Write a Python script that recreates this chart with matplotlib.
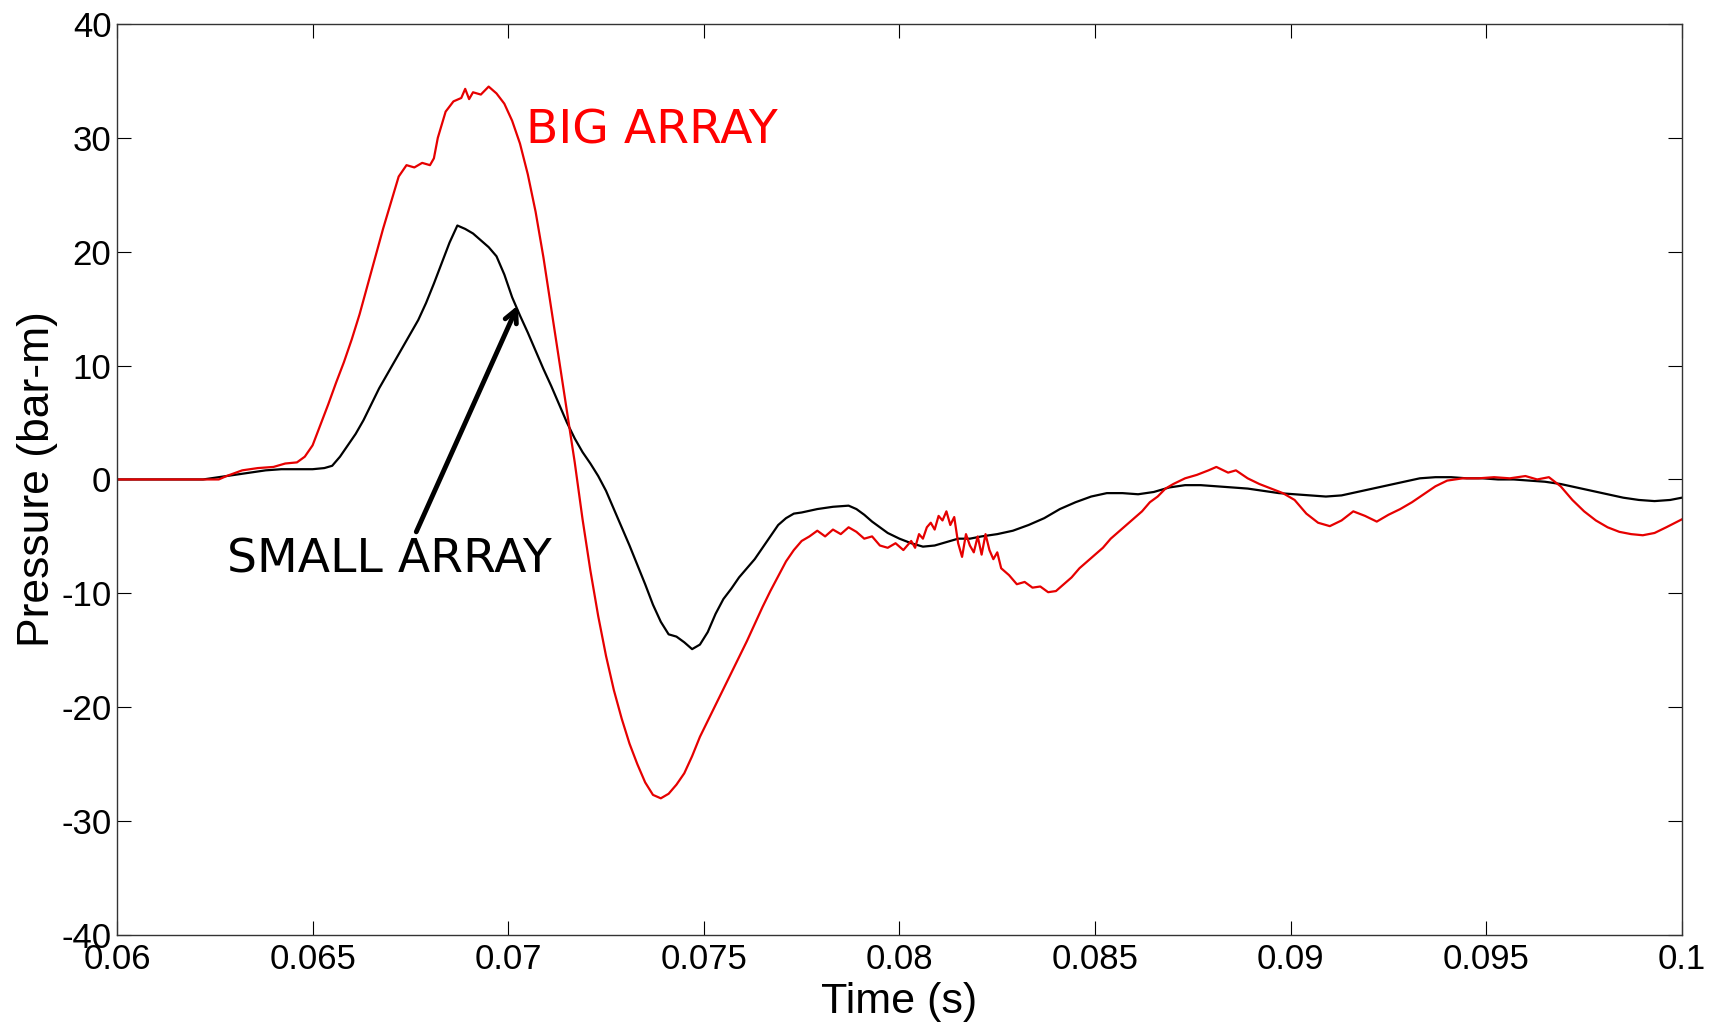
import matplotlib
matplotlib.use("Agg")
import matplotlib.pyplot as plt

plt.rcParams["axes.unicode_minus"] = False

# Pressure traces (bar-m) against time (s) for the two arrays
big_t = [0.0600, 0.0626, 0.0628, 0.0632, 0.0636, 0.0640, 0.0643, 0.0646, 0.0648, 0.0650,
         0.0652, 0.0654, 0.0656, 0.0658, 0.0660, 0.0662, 0.0664, 0.0666, 0.0668, 0.0670,
         0.0672, 0.0674, 0.0676, 0.0678, 0.0680, 0.0681, 0.0682, 0.0684, 0.0686, 0.0688,
         0.0689, 0.0690, 0.0691, 0.0693, 0.0695, 0.0697, 0.0699, 0.0701, 0.0703, 0.0705,
         0.0707, 0.0709, 0.0711, 0.0713, 0.0715, 0.0717, 0.0719, 0.0721, 0.0723, 0.0725,
         0.0727, 0.0729, 0.0731, 0.0733, 0.0735, 0.0737, 0.0739, 0.0741, 0.0743, 0.0745,
         0.0747, 0.0749, 0.0751, 0.0753, 0.0755, 0.0757, 0.0759, 0.0761, 0.0763, 0.0765,
         0.0767, 0.0769, 0.0771, 0.0773, 0.0775, 0.0777, 0.0779, 0.0781, 0.0783, 0.0785,
         0.0787, 0.0789, 0.0791, 0.0793, 0.0795, 0.0797, 0.0799, 0.0801, 0.0803, 0.0804,
         0.0805, 0.0806, 0.0807, 0.0808, 0.0809, 0.0810, 0.0811, 0.0812, 0.0813, 0.0814,
         0.0815, 0.0816, 0.0817, 0.0818, 0.0819, 0.0820, 0.0821, 0.0822, 0.0823, 0.0824,
         0.0825, 0.0826, 0.0828, 0.0830, 0.0832, 0.0834, 0.0836, 0.0838, 0.0840, 0.0842,
         0.0844, 0.0846, 0.0848, 0.0850, 0.0852, 0.0854, 0.0856, 0.0858, 0.0860, 0.0862,
         0.0864, 0.0866, 0.0868, 0.0870, 0.0873, 0.0876, 0.0879, 0.0881, 0.0884, 0.0886,
         0.0889, 0.0892, 0.0895, 0.0898, 0.0901, 0.0904, 0.0907, 0.0910, 0.0913, 0.0916,
         0.0919, 0.0922, 0.0925, 0.0928, 0.0931, 0.0934, 0.0937, 0.0940, 0.0944, 0.0948,
         0.0952, 0.0956, 0.0960, 0.0963, 0.0966, 0.0969, 0.0972, 0.0975, 0.0978, 0.0981,
         0.0984, 0.0987, 0.0990, 0.0993, 0.0996, 0.1000]
big_p = [0.0, 0.0, 0.3, 0.8, 1.0, 1.1, 1.4, 1.5, 2.0, 3.0,
         4.8, 6.6, 8.5, 10.3, 12.3, 14.5, 17.0, 19.5, 22.0, 24.3,
         26.6, 27.6, 27.4, 27.8, 27.6, 28.2, 30.0, 32.3, 33.2, 33.5,
         34.3, 33.4, 34.0, 33.8, 34.5, 33.9, 33.0, 31.5, 29.5, 26.8,
         23.5, 19.5, 15.0, 10.5, 6.0, 1.5, -3.5, -8.0, -12.0, -15.5,
         -18.5, -21.0, -23.2, -25.0, -26.6, -27.7, -28.0, -27.6, -26.8, -25.8,
         -24.3, -22.6, -21.2, -19.8, -18.4, -17.0, -15.6, -14.2, -12.7, -11.2,
         -9.8, -8.5, -7.2, -6.2, -5.4, -5.0, -4.5, -5.0, -4.4, -4.8,
         -4.2, -4.6, -5.2, -5.0, -5.8, -6.0, -5.6, -6.2, -5.4, -6.0,
         -4.8, -5.2, -4.2, -3.8, -4.4, -3.2, -3.6, -2.8, -4.0, -3.3,
         -5.6, -6.8, -4.8, -5.8, -6.4, -5.0, -6.6, -4.8, -6.2, -7.0,
         -6.4, -7.8, -8.4, -9.2, -9.0, -9.5, -9.4, -9.9, -9.8, -9.2,
         -8.6, -7.8, -7.2, -6.6, -6.0, -5.2, -4.6, -4.0, -3.4, -2.8,
         -2.0, -1.5, -0.8, -0.4, 0.1, 0.4, 0.8, 1.1, 0.6, 0.8,
         0.1, -0.4, -0.8, -1.2, -1.8, -3.0, -3.8, -4.1, -3.6, -2.8,
         -3.2, -3.7, -3.1, -2.6, -2.0, -1.3, -0.6, -0.1, 0.1, 0.1,
         0.2, 0.1, 0.3, 0.0, 0.2, -0.6, -1.8, -2.8, -3.6, -4.2,
         -4.6, -4.8, -4.9, -4.7, -4.2, -3.5]

small_t = [0.0600, 0.0622, 0.0626, 0.0630, 0.0634, 0.0638, 0.0642, 0.0646, 0.0650, 0.0653,
           0.0655, 0.0657, 0.0659, 0.0661, 0.0663, 0.0665, 0.0667, 0.0669, 0.0671, 0.0673,
           0.0675, 0.0677, 0.0679, 0.0681, 0.0683, 0.0685, 0.0687, 0.0689, 0.0691, 0.0693,
           0.0695, 0.0697, 0.0699, 0.0701, 0.0703, 0.0705, 0.0707, 0.0709, 0.0711, 0.0713,
           0.0715, 0.0717, 0.0719, 0.0721, 0.0723, 0.0725, 0.0727, 0.0729, 0.0731, 0.0733,
           0.0735, 0.0737, 0.0739, 0.0741, 0.0743, 0.0745, 0.0747, 0.0749, 0.0751, 0.0753,
           0.0755, 0.0757, 0.0759, 0.0761, 0.0763, 0.0765, 0.0767, 0.0769, 0.0771, 0.0773,
           0.0775, 0.0779, 0.0783, 0.0787, 0.0789, 0.0791, 0.0793, 0.0795, 0.0797, 0.0800,
           0.0803, 0.0806, 0.0809, 0.0812, 0.0815, 0.0818, 0.0821, 0.0825, 0.0829, 0.0833,
           0.0837, 0.0841, 0.0845, 0.0849, 0.0853, 0.0857, 0.0861, 0.0865, 0.0869, 0.0873,
           0.0877, 0.0881, 0.0885, 0.0889, 0.0893, 0.0897, 0.0901, 0.0905, 0.0909, 0.0913,
           0.0917, 0.0921, 0.0925, 0.0929, 0.0933, 0.0937, 0.0941, 0.0945, 0.0949, 0.0953,
           0.0957, 0.0961, 0.0965, 0.0969, 0.0973, 0.0977, 0.0981, 0.0985, 0.0989, 0.0993,
           0.0997, 0.1000]
small_p = [0.0, 0.0, 0.2, 0.4, 0.6, 0.8, 0.9, 0.9, 0.9, 1.0,
           1.2, 2.0, 3.0, 4.0, 5.2, 6.6, 8.0, 9.2, 10.4, 11.6,
           12.8, 14.0, 15.5, 17.2, 19.0, 20.8, 22.3, 22.0, 21.6, 21.0,
           20.4, 19.6, 18.0, 16.0, 14.4, 12.9, 11.3, 9.7, 8.2, 6.6,
           5.0, 3.6, 2.4, 1.4, 0.3, -1.0, -2.6, -4.2, -5.8, -7.5,
           -9.2, -11.0, -12.5, -13.6, -13.8, -14.3, -14.9, -14.5, -13.4, -11.8,
           -10.5, -9.6, -8.6, -7.8, -7.0, -6.0, -5.0, -4.0, -3.4, -3.0,
           -2.9, -2.6, -2.4, -2.3, -2.6, -3.1, -3.7, -4.2, -4.7, -5.2,
           -5.6, -5.9, -5.8, -5.5, -5.2, -5.2, -5.0, -4.8, -4.5, -4.0,
           -3.4, -2.6, -2.0, -1.5, -1.2, -1.2, -1.3, -1.1, -0.7, -0.5,
           -0.5, -0.6, -0.7, -0.8, -1.0, -1.2, -1.3, -1.4, -1.5, -1.4,
           -1.1, -0.8, -0.5, -0.2, 0.1, 0.2, 0.2, 0.1, 0.1, 0.0,
           0.0, -0.1, -0.2, -0.4, -0.7, -1.0, -1.3, -1.6, -1.8, -1.9,
           -1.8, -1.6]

x_ticks = [0.06, 0.065, 0.07, 0.075, 0.08, 0.085, 0.09, 0.095, 0.1]
x_labels = ["0.06", "0.065", "0.07", "0.075", "0.08", "0.085", "0.09", "0.095", "0.1"]
y_ticks = [-40, -30, -20, -10, 0, 10, 20, 30, 40]

axis_font = ["Liberation Sans", "DejaVu Sans"]

fig = plt.figure(figsize=(17.18, 10.28), dpi=100)
ax = fig.add_axes([0.0681, 0.0905, 0.9109, 0.8862])

ax.plot(small_t, small_p, color="black", lw=1.6)
ax.plot(big_t, big_p, color="#e60000", lw=1.6)

ax.set_xlim(0.06, 0.1)
ax.set_ylim(-40, 40)
ax.set_xticks(x_ticks)
ax.set_xticklabels(x_labels)
ax.set_yticks(y_ticks)
ax.tick_params(direction="in", length=10, width=0.8, top=True, right=True)
ax.tick_params(axis="x", pad=6)
ax.tick_params(axis="y", pad=4)
for lab in ax.get_xticklabels() + ax.get_yticklabels():
    lab.set_family(axis_font)
    lab.set_fontsize(25)
for sp in ax.spines.values():
    sp.set_linewidth(1.0)
    sp.set_color("#333333")

ax.set_xlabel("Time (s)", family=axis_font, fontsize=31, labelpad=4)
ax.set_ylabel("Pressure (bar-m)", family=axis_font, fontsize=32, labelpad=2)

# labels for the two traces
ax.text(0.07045, 29.5, "BIG ARRAY", color="#ff0000", fontsize=34, va="baseline")
ax.text(0.0628, -8.2, "SMALL ARRAY", color="black", fontsize=34, va="baseline")
ax.annotate("", xy=(0.07025, 15.3), xytext=(0.06765, -4.6),
            arrowprops=dict(arrowstyle="->", lw=3.5, color="black",
                            mutation_scale=22, shrinkA=0, shrinkB=0))

fig.savefig("out.png", dpi=100)
